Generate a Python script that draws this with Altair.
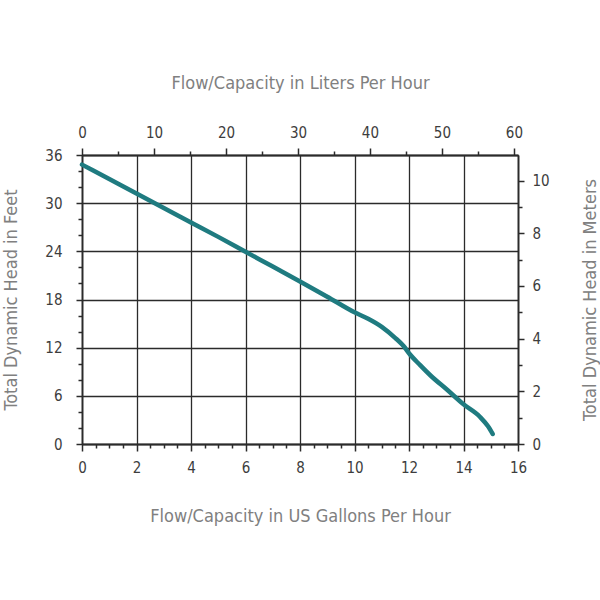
import altair as alt
import pandas as pd

# Pump curve
gallons = [0, 1, 2, 3, 4, 5, 6, 7, 8, 9, 10, 10.5, 11, 11.5, 11.8, 12, 12.4, 12.8, 13.4, 14, 14.6, 14.9, 15.07]
feet = [34.8, 33.0, 31.2, 29.4, 27.6, 25.8, 23.95, 22.1, 20.25, 18.35, 16.4, 15.6, 14.6, 13.2, 12.2, 11.3, 9.85, 8.5, 6.75, 4.95, 3.4, 2.2, 1.25]

# Axis tick values (major + minor)
gal_ticks = [0, 0.5, 1, 1.5, 2, 2.5, 3, 3.5, 4, 4.5, 5, 5.5, 6, 6.5, 7, 7.5, 8,
             8.5, 9, 9.5, 10, 10.5, 11, 11.5, 12, 12.5, 13, 13.5, 14, 14.5, 15, 15.5, 16]
feet_ticks = [0, 2, 4, 6, 8, 10, 12, 14, 16, 18, 20, 22, 24, 26, 28, 30, 32, 34, 36]
liter_ticks = [0, 5, 10, 15, 20, 25, 30, 35, 40, 45, 50, 55, 60]
meter_ticks = [0, 1, 2, 3, 4, 5, 6, 7, 8, 9, 10]

GAL_MAX = 16
FT_MAX = 36
L_PER_GAL = 3.78541
M_PER_FT = 0.3048

df = pd.DataFrame({"gph": gallons, "ft": feet})

FONT = "DejaVu Sans Condensed, sans-serif"
LABEL_COLOR = "#3d3d3d"
TITLE_COLOR = "#808080"
AX_COLOR = "#2b2b2b"
W, H = 436, 289


def cond(test, a, b):
    return {"condition": {"test": test, "value": a}, "value": b}


common = dict(
    labelFont=FONT, labelFontSize=15, labelColor=LABEL_COLOR,
    titleFont=FONT, titleFontSize=18, titleFontWeight="normal", titleColor=TITLE_COLOR,
    domainColor=AX_COLOR, domainWidth=1.8, tickColor=AX_COLOR, tickWidth=1.5,
    labelOverlap=False, labelFlush=False, titleAlign="center", titleBaseline="middle",
)

line = alt.Chart(df).mark_line(
    color="#1f7b80", strokeWidth=4.5, strokeCap="round", interpolate="monotone"
).encode(
    x=alt.X("gph:Q", scale=alt.Scale(domain=[0, GAL_MAX], nice=False),
            axis=alt.Axis(orient="bottom", values=gal_ticks,
                          labelExpr="datum.value % 2 === 0 ? format(datum.value, 'd') : ''",
                          tickSize=cond("datum.value % 2 === 0", 7, 4),
                          grid=True, gridColor=AX_COLOR, gridWidth=1.3,
                          gridOpacity=cond("datum.value % 2 === 0", 1, 0),
                          labelPadding=9,
                          title="Flow/Capacity in US Gallons Per Hour",
                          titleX=W / 2, titleY=72, **common)),
    y=alt.Y("ft:Q", scale=alt.Scale(domain=[0, FT_MAX], nice=False),
            axis=alt.Axis(orient="left", values=feet_ticks,
                          labelExpr="datum.value % 6 === 0 ? format(datum.value, 'd') : ''",
                          tickSize=cond("datum.value % 6 === 0", 6, 4),
                          grid=True, gridColor=AX_COLOR, gridWidth=1.3,
                          gridOpacity=cond("datum.value % 6 === 0", 1, 0),
                          labelPadding=14, labelBaseline="middle",
                          title="Total Dynamic Head in Feet", titleAngle=270,
                          titleX=-71, titleY=H / 2, **common)),
)

metric = alt.Chart(df).transform_calculate(
    lph=f"datum.gph * {L_PER_GAL}", m=f"datum.ft * {M_PER_FT}"
).mark_point(opacity=0).encode(
    x=alt.X("lph:Q", scale=alt.Scale(domain=[0, GAL_MAX * L_PER_GAL], nice=False),
            axis=alt.Axis(orient="top", values=liter_ticks,
                          labelExpr="datum.value % 10 === 0 ? format(datum.value, 'd') : ''",
                          tickSize=cond("datum.value % 10 === 0", 7, 4),
                          grid=False, labelPadding=8,
                          title="Flow/Capacity in Liters Per Hour",
                          titleX=W / 2, titleY=-72, **common)),
    y=alt.Y("m:Q", scale=alt.Scale(domain=[0, FT_MAX * M_PER_FT], nice=False),
            axis=alt.Axis(orient="right", values=meter_ticks,
                          labelExpr="datum.value % 2 === 0 ? format(datum.value, 'd') : ''",
                          tickSize=cond("datum.value % 2 === 0", 6, 4),
                          grid=False, labelPadding=8, labelBaseline="middle",
                          title="Total Dynamic Head in Meters", titleAngle=270,
                          titleX=72, titleY=H / 2, **common)),
)

chart = alt.layer(line, metric).resolve_scale(x="independent", y="independent").properties(
    width=W, height=H, autosize="none",
    padding={"left": 82, "top": 155, "right": 82, "bottom": 156},
).configure_view(stroke=None).configure(background="white")

chart.save("out.html", embed_options={"renderer": "svg", "actions": False})
